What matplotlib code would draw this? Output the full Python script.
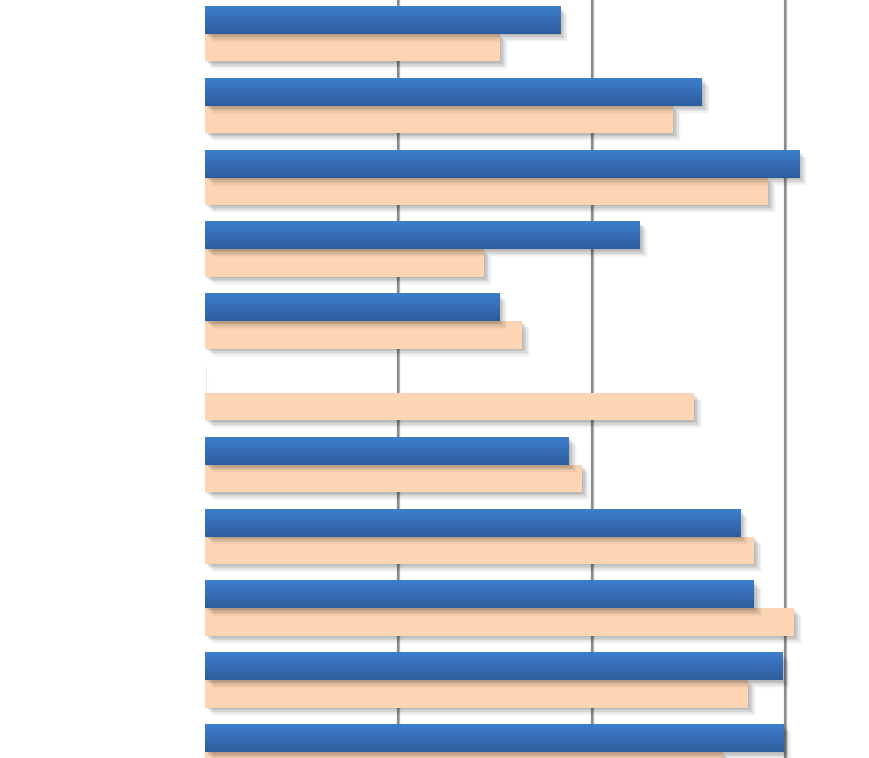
import matplotlib.pyplot as plt
import matplotlib.patheffects as pe
import numpy as np
from matplotlib.colors import LinearSegmentedColormap

# valores (unidades de la grilla: 10, 20, 30)
grupos = list(range(11))
serie_azul = [18.37, 25.71, 30.73, 22.50, 15.21, 0.01, 18.83, 27.68, 28.40, 29.85, 29.95]
serie_durazno = [15.26, 24.21, 29.13, 14.43, 16.40, 25.30, 19.50, 28.40, 30.47, 28.09, 26.80]
grilla_x = [10, 20, 30]

f = plt.figure(figsize=(8.69, 7.58), dpi=100)
ax = f.add_axes([205 / 869, 0, 664 / 869, 1])

alto = 0.383
y = np.array(grupos, dtype=float)

# sombras difusas
sombra = [pe.SimplePatchShadow(offset=(o, -o), shadow_rgbFace='black', alpha=a)
          for o, a in [(1, 0.07), (2, 0.07), (3, 0.06), (4, 0.05), (5, 0.035), (6, 0.02)]]

for v in grilla_x:
    ax.axvline(v, color='#b4b4b4', lw=2.4, zorder=1)
    ax.axvline(v, color='#858585', lw=1.2, zorder=1)

ax.barh(y + alto / 2, serie_durazno, height=alto, color='#fcd5b4', zorder=2,
        path_effects=sombra + [pe.Normal()])
ax.barh(y - alto / 2, serie_azul, height=alto, color='#3670b8', zorder=2,
        path_effects=sombra + [pe.Normal()])

# degradado de las barras azules
cmap = LinearSegmentedColormap.from_list('azul', ['#3e7ecd', '#2d5d9c'])
grad = np.linspace(0, 1, 64).reshape(-1, 1)
for yi, w in zip(y, serie_azul):
    if w < 1:
        continue
    ax.imshow(grad, extent=(0, w, yi, yi - alto), aspect='auto', cmap=cmap,
              origin='upper', zorder=3, interpolation='bicubic')

ax.set_xlim(0, 664 / 19.33)
ax.set_ylim((758 - 34) / 71.8, -34 / 71.8)
ax.axis('off')

plt.savefig('out.png', dpi=100)
plt.close()
